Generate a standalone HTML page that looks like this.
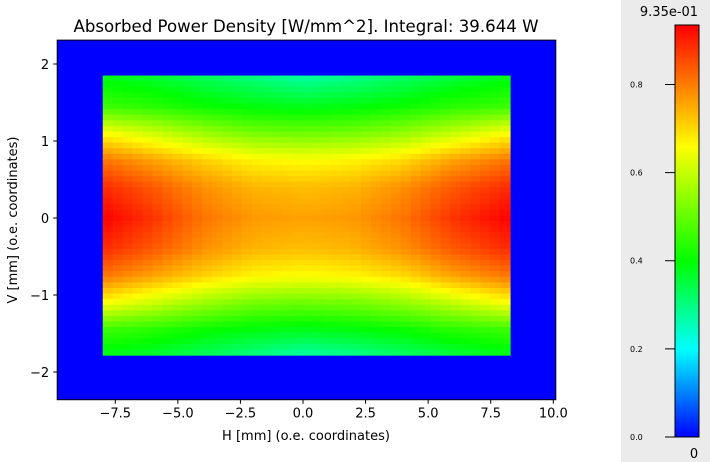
<!DOCTYPE html>
<html><head><meta charset="utf-8">
<style>
body{margin:0;width:710px;height:462px;background:#fff;overflow:hidden;font-family:"DejaVu Sans","Liberation Sans",sans-serif}
#cbpanel{position:absolute;left:621px;top:0;width:89px;height:462px;background:#ebebeb}
svg{position:absolute;left:0;top:0}
</style></head><body>
<div id="cbpanel"></div>
<svg id="chart" width="710" height="462" font-family="DejaVu Sans, Liberation Sans, sans-serif"></svg>
<script>
const hCoords=[-8,-6,-4,-2,0,2,4,6,8.27];
const vCoords=[1.85,1.45,1.1,0.75,0.4,0,-0.4,-0.75,-1.1,-1.45,-1.78];
const gridValues=[
[0.38,0.36,0.33,0.30,0.27,0.29,0.32,0.35,0.38],
[0.46,0.44,0.41,0.39,0.38,0.39,0.41,0.44,0.46],
[0.66,0.61,0.56,0.52,0.51,0.52,0.55,0.60,0.66],
[0.81,0.76,0.71,0.67,0.66,0.67,0.70,0.76,0.81],
[0.89,0.84,0.78,0.74,0.73,0.74,0.78,0.84,0.89],
[0.935,0.88,0.81,0.77,0.76,0.77,0.81,0.88,0.935],
[0.89,0.84,0.78,0.74,0.73,0.74,0.78,0.84,0.89],
[0.81,0.76,0.71,0.67,0.66,0.67,0.70,0.76,0.81],
[0.66,0.61,0.56,0.52,0.51,0.52,0.55,0.60,0.66],
[0.46,0.44,0.41,0.39,0.38,0.39,0.41,0.44,0.46],
[0.38,0.36,0.33,0.30,0.27,0.29,0.32,0.35,0.38]];
const xTicks=[-7.5,-5,-2.5,0,2.5,5,7.5,10];
const xTickLabels=["−7.5","−5.0","−2.5","0.0","2.5","5.0","7.5","10.0"];
const yTicks=[2,1,0,-1,-2];
const yTickLabels=["2","1","0","−1","−2"];
const cbTicks=[0,0.2,0.4,0.6,0.8];
const cbTickLabels=["0.0","0.2","0.4","0.6","0.8"];
const vmax=0.935;

const NS="http://www.w3.org/2000/svg";
const svg=document.getElementById('chart');
const X=h=>303+(h)*25.03;
const Y=v=>218-v*77;
const CB=t=>437-t*(412/vmax);
function cmap(t){
  const s=[[0,0,0,255],[0.2,0,255,255],[0.4,0,255,0],[0.66,255,255,0],[0.935,255,0,0]];
  if(t<=0)return 'rgb(0,0,255)';
  for(let i=1;i<s.length;i++){if(t<=s[i][0]){const a=s[i-1],b=s[i],f=(t-a[0])/(b[0]-a[0]);
    return `rgb(${Math.round(a[1]+(b[1]-a[1])*f)},${Math.round(a[2]+(b[2]-a[2])*f)},${Math.round(a[3]+(b[3]-a[3])*f)})`;}}
  return 'rgb(255,0,0)';
}
function el(tag,attrs,txt){const e=document.createElementNS(NS,tag);for(const k in attrs)e.setAttribute(k,attrs[k]);if(txt!==undefined)e.textContent=txt;svg.appendChild(e);return e;}
function interp(arr,v){
  for(let i=0;i<arr.length-1;i++){const a=arr[i],b=arr[i+1];const lo=Math.min(a,b),hi=Math.max(a,b);
    if(v>=lo&&v<=hi)return i+(v-a)/(b-a);} return v<Math.min(arr[0],arr[arr.length-1])?(arr[0]<arr[arr.length-1]?0:arr.length-1):(arr[0]<arr[arr.length-1]?arr.length-1:0);}
function sample(h,v){
  const fi=interp(vCoords,v),fj=interp(hCoords,h);
  const i0=Math.min(Math.floor(fi),vCoords.length-2),j0=Math.min(Math.floor(fj),hCoords.length-2);
  const di=fi-i0,dj=fj-j0;
  const g=gridValues;
  return g[i0][j0]*(1-di)*(1-dj)+g[i0][j0+1]*(1-di)*dj+g[i0+1][j0]*di*(1-dj)+g[i0+1][j0+1]*di*dj;
}
const bg=el('rect',{x:X(-9.82),y:Y(2.31),width:X(10.1)-X(-9.82),height:Y(-2.36)-Y(2.31),fill:'#0000ff'});


const g=el('g',{});


const NC=41,NR=50;
const h0=hCoords[0],h1=hCoords[hCoords.length-1],v0=vCoords[0],v1=vCoords[vCoords.length-1];
for(let r=0;r<NR;r++)for(let c=0;c<NC;c++){
  const ha=h0+(h1-h0)*c/NC,hb=h0+(h1-h0)*(c+1)/NC,va=v0+(v1-v0)*r/NR,vb=v0+(v1-v0)*(r+1)/NR;
  const val=sample((ha+hb)/2,(va+vb)/2);
  const x=X(ha),y=Y(va);
  const rc=document.createElementNS(NS,'rect');
  rc.setAttribute('x',x);rc.setAttribute('y',y);
  rc.setAttribute('width',X(hb)-x+0.6);rc.setAttribute('height',Y(vb)-y+0.6);
  rc.setAttribute('fill',cmap(val));
  
  
  g.appendChild(rc);
}
const fr=el('rect',{x:X(-9.82),y:Y(2.31),width:X(10.1)-X(-9.82),height:Y(-2.36)-Y(2.31),fill:'none',stroke:'#000','stroke-width':1});


const yb=Y(-2.36);
xTicks.forEach((t,i)=>{
  el('line',{x1:X(t),x2:X(t),y1:yb,y2:yb+4,stroke:'#000'});
  const tx=el('text',{x:X(t),y:yb+18,'text-anchor':'middle','font-size':13,fill:'#000'},xTickLabels[i]);
  
  
});
const xl=X(-9.82);
yTicks.forEach((t,i)=>{
  el('line',{x1:xl-4,x2:xl,y1:Y(t),y2:Y(t),stroke:'#000'});
  const tx=el('text',{x:xl-8,y:Y(t)+5,'text-anchor':'end','font-size':13,fill:'#000'},yTickLabels[i]);
  
  
});
const t1=el('text',{x:306,y:32,'text-anchor':'middle','font-size':16.6,fill:'#000'},'Absorbed Power Density [W/mm^2]. Integral: 39.644 W');


const t2=el('text',{x:306,y:440,'text-anchor':'middle','font-size':13,fill:'#000'},'H [mm] (o.e. coordinates)');


const t3=el('text',{x:17,y:220,'text-anchor':'middle','font-size':13,fill:'#000',transform:'rotate(-90 17 220)'},'V [mm] (o.e. coordinates)');


const cg=el('g',{});


for(let i=0;i<206;i++){
  const ta=vmax*i/206,tb=vmax*(i+1)/206;
  const rc=document.createElementNS(NS,'rect');
  rc.setAttribute('x',675);rc.setAttribute('y',CB(tb));rc.setAttribute('width',24);rc.setAttribute('height',CB(ta)-CB(tb)+0.5);
  rc.setAttribute('fill',cmap((ta+tb)/2));
  cg.appendChild(rc);
}
el('rect',{x:675,y:CB(vmax),width:24,height:CB(0)-CB(vmax),fill:'none',stroke:'#000'});
cbTicks.forEach((t,i)=>{
  el('line',{x1:665,x2:675,y1:CB(t),y2:CB(t),stroke:'#000'});
  const tx=el('text',{x:630,y:CB(t)+3,'font-size':8,fill:'#000'},cbTickLabels[i]);
  
  
});
const cm=el('text',{x:669,y:16,'text-anchor':'middle','font-size':13,fill:'#000'},'9.35e-01');


const cz=el('text',{x:694,y:458,'text-anchor':'middle','font-size':13,fill:'#000'},'0');


</script>
</body></html>
